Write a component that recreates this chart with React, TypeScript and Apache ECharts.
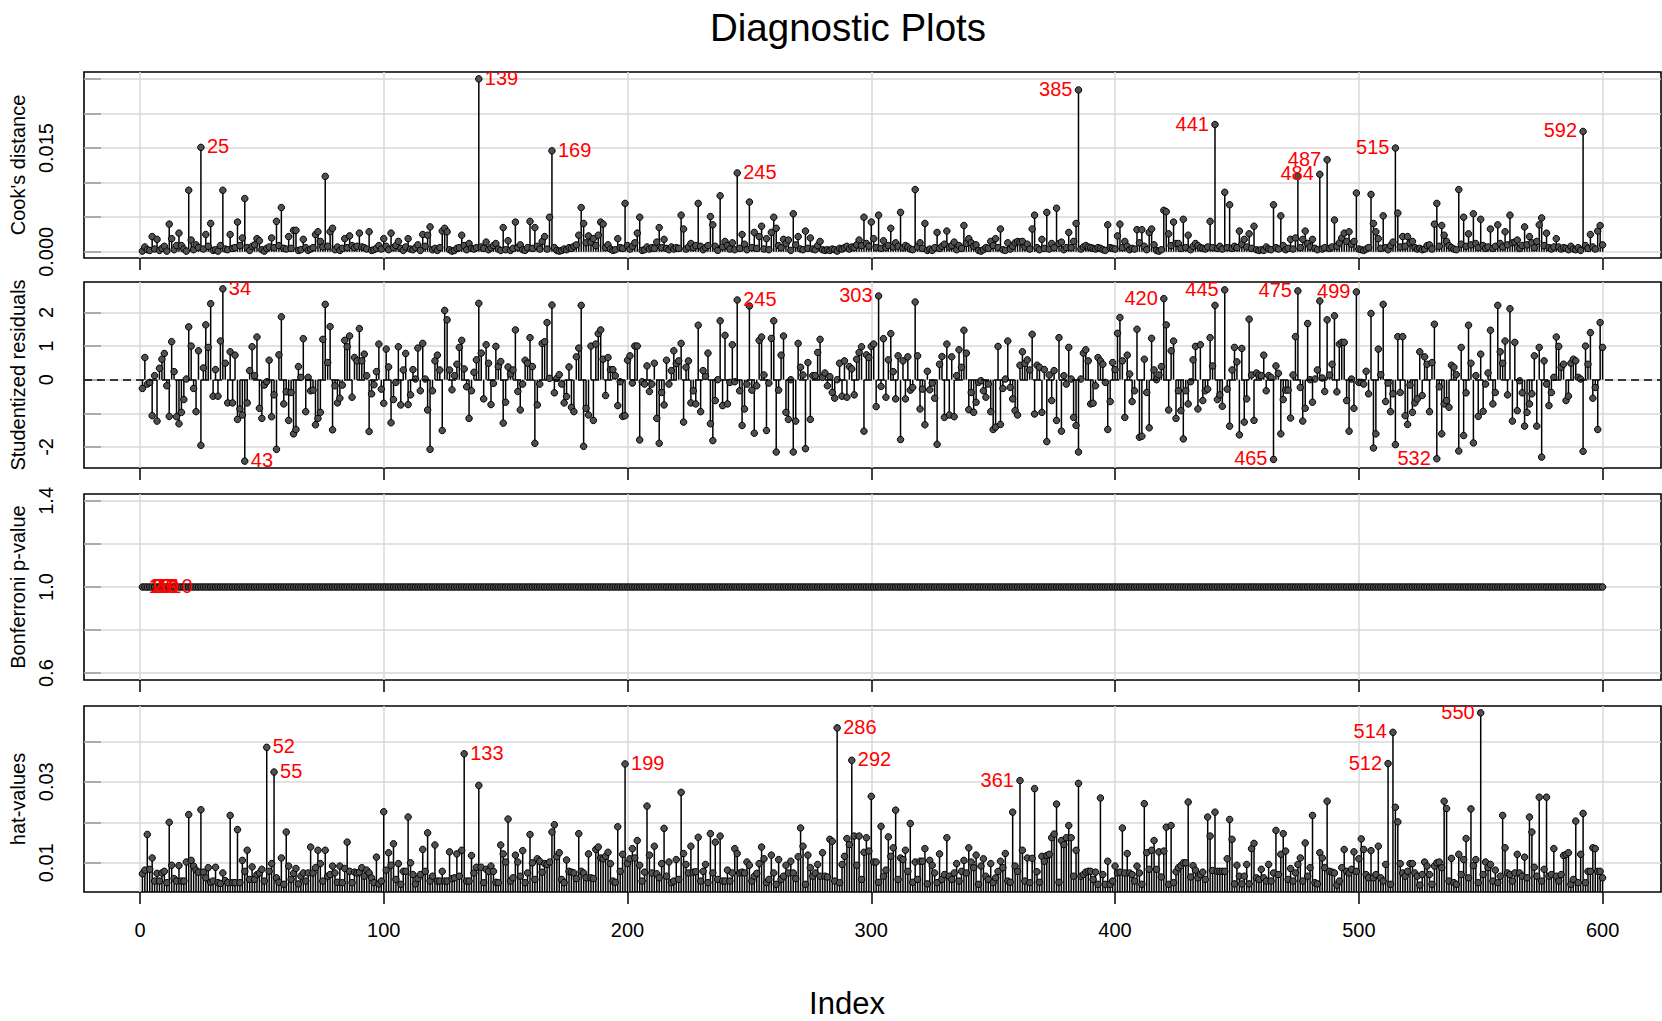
import React, { useEffect, useRef } from "react";
import * as echarts from "echarts";

// ---------- data ----------
const N = 600;
const indexValues: number[] = Array.from({ length: N }, (_, i) => i + 1);

// Cook's distance, in units of 0.001
const cookDistance: number[] = [
  0.1,0.7,0.3,0.2,2.2,0.4,1.8,0.2,0.5,0.8,0.1,4.0,1.9,0.3,0.9,2.7,0.9,0.4,0.1,8.9,
  1.7,0.3,1.0,0.6,15.1,0.4,2.5,0.8,4.1,0.2,0.3,0.1,0.9,8.9,0.4,0.3,2.5,0.5,0.6,4.3,
  0.9,2.0,7.7,0.6,0.2,0.8,1.0,1.9,1.6,0.3,0.1,0.5,0.7,2.0,0.6,4.4,0.9,6.4,0.5,0.4,
  2.2,0.5,3.1,3.1,0.2,0.3,1.8,0.6,0.2,0.4,0.6,2.5,2.9,1.5,0.7,10.9,0.8,2.9,3.4,0.3,
  0.7,0.2,0.5,1.9,0.6,2.3,0.9,0.6,0.8,2.7,0.7,0.6,0.4,2.9,0.2,0.3,0.5,0.9,0.4,1.9,
  0.8,0.3,2.7,0.6,0.9,1.5,0.5,0.2,0.7,1.9,0.4,0.3,0.6,1.0,0.2,2.5,0.8,2.4,3.6,0.3,
  0.5,0.2,0.6,3.0,3.4,2.9,0.3,0.1,0.2,0.5,0.6,2.4,0.9,0.3,1.2,0.5,0.4,0.6,25.0,0.7,
  0.5,1.4,0.3,0.6,0.9,1.2,0.4,0.2,3.5,0.3,1.6,0.2,0.5,4.3,0.6,1.0,0.3,0.2,0.6,4.4,
  0.5,3.5,0.8,0.4,1.5,2.2,0.4,5.0,14.6,0.6,0.2,0.1,0.2,0.4,0.3,0.6,0.5,0.8,1.0,2.4,
  6.4,4.1,1.3,2.3,1.4,1.9,0.9,2.4,4.3,4.0,0.6,1.0,0.4,0.2,0.3,1.9,0.6,0.5,7.0,0.9,
  0.4,0.8,1.3,2.7,5.0,0.2,0.3,0.7,0.4,0.6,0.5,1.4,3.5,0.6,1.8,0.5,0.3,0.7,0.4,0.6,
  0.5,5.3,3.3,0.4,0.7,1.2,0.6,0.9,7.0,0.8,0.3,0.6,0.9,5.1,3.9,0.8,0.2,8.1,0.7,1.5,
  0.9,0.4,1.3,0.3,11.4,0.5,2.5,1.1,0.3,7.2,0.6,2.8,0.5,2.2,3.7,0.4,1.9,0.3,2.8,5.0,
  3.4,0.9,0.6,1.8,1.2,1.7,0.2,5.5,1.0,2.2,0.4,0.3,3.0,0.5,2.0,0.4,0.3,0.9,1.5,0.3,
  0.2,0.3,0.2,0.4,0.3,0.1,0.5,0.4,0.6,0.8,0.4,0.7,0.6,1.0,1.7,0.9,5.0,1.2,0.8,4.3,
  1.9,0.6,5.3,0.5,1.6,0.6,0.9,3.4,0.7,1.3,0.8,5.7,0.6,0.9,0.7,0.4,0.3,9.0,0.7,1.3,
  0.5,4.1,0.2,0.4,0.2,0.6,2.8,0.5,0.8,1.1,3.0,0.7,0.9,1.4,0.3,0.9,0.5,3.8,1.2,1.9,
  1.3,0.8,1.0,0.2,0.1,0.3,0.6,0.5,1.5,0.9,1.9,0.6,3.3,0.3,0.2,1.3,0.4,0.8,1.3,1.5,
  1.4,1.5,0.7,1.1,0.4,3.3,5.3,0.6,0.3,1.8,0.5,5.7,0.4,1.2,0.6,6.3,1.2,1.4,0.3,0.6,
  2.8,0.6,1.5,4.1,23.4,0.4,0.7,0.9,0.7,0.6,0.5,0.4,0.6,0.5,0.3,0.2,3.9,0.6,0.5,0.4,
  2.3,4.0,0.6,1.5,0.8,0.3,0.5,0.4,3.2,1.3,3.2,0.8,0.3,2.8,3.3,1.0,0.2,0.1,0.3,6.0,
  5.8,2.6,0.9,4.3,1.2,1.2,0.5,4.7,0.6,2.4,0.3,0.8,1.2,0.9,0.6,0.5,0.4,0.7,4.4,0.6,
  18.4,0.5,0.8,0.4,8.6,0.6,6.8,0.5,0.8,0.6,3.0,1.1,1.8,0.7,2.6,0.5,3.7,0.3,0.2,0.3,
  0.2,0.7,0.4,0.3,6.8,0.6,0.4,5.2,0.9,0.3,0.5,1.8,0.4,2.0,10.9,0.6,1.8,3.0,1.2,0.7,
  1.8,0.5,0.3,11.2,0.4,0.6,13.3,0.5,0.7,4.6,0.8,1.3,2.0,2.7,1.5,2.9,1.1,1.5,8.5,0.4,
  0.3,0.2,0.4,0.6,8.3,4.1,2.9,1.9,0.5,5.2,0.6,0.3,0.9,1.4,15.0,5.6,0.7,2.2,0.8,2.2,
  1.3,1.5,0.6,0.4,0.5,0.3,0.4,0.9,1.0,0.4,4.0,7.0,0.8,3.8,2.4,1.5,0.9,0.6,0.4,0.3,
  9.0,1.1,5.0,0.8,2.6,1.0,5.5,1.2,0.6,4.7,0.9,0.5,0.7,3.3,0.5,0.8,3.9,1.2,0.7,2.9,
  1.0,5.3,1.3,1.4,1.7,0.5,0.9,3.6,1.0,2.2,1.3,0.6,1.5,3.9,4.9,0.9,2.7,0.6,0.4,0.7,
  1.9,0.7,0.4,0.6,0.5,0.3,0.8,0.4,0.3,0.6,0.2,17.4,0.9,0.5,2.5,0.7,0.4,3.0,3.8,1.0,
];

const studentizedResiduals: number[] = [
  -0.26,0.66,-0.13,-0.08,-1.07,0.12,-1.23,0.34,0.61,0.78,-0.18,-1.09,1.13,0.24,-1.1,-1.31,-0.97,-0.59,0.02,1.57,
  1.0,-0.26,-0.95,0.86,-1.95,0.35,1.63,0.96,2.26,-0.49,0.3,-0.49,1.15,2.7,0.49,-0.69,0.83,-0.69,0.73,-1.18,
  -0.87,-1.05,-2.42,-0.69,0.27,0.98,0.12,1.27,-0.85,-1.15,-0.16,-0.06,0.58,-1.1,-0.45,-2.07,0.74,1.87,-0.72,-0.36,
  -1.21,-0.38,-1.61,-1.48,0.39,0.07,1.22,-0.95,0.07,-0.33,-0.31,-1.34,-1.15,-0.97,1.2,2.24,0.51,1.58,-1.49,-0.18,
  -0.69,-0.55,-0.16,1.17,0.98,1.3,-0.52,0.66,0.56,1.52,0.56,0.76,0.12,-1.54,-0.42,-0.15,0.24,1.06,-0.28,-0.7,
  0.91,0.38,-1.28,-0.59,-0.08,0.98,-0.75,0.29,0.78,-0.74,-0.45,0.3,0.02,0.94,-0.33,1.08,0.02,-0.9,-2.07,-0.33,
  0.56,0.73,0.29,-1.51,2.06,1.78,0.29,-0.3,0.12,0.46,0.96,1.17,0.32,-0.21,-1.15,-0.33,0.22,0.59,2.27,0.79,
  -0.57,1.04,0.49,-0.74,-0.11,0.99,0.39,0.54,-1.29,-0.67,0.38,0.17,0.29,1.48,-0.35,-0.9,-0.13,0.58,0.49,1.25,
  0.39,-1.89,-0.75,-0.13,1.08,1.13,1.7,0.04,2.22,-0.39,0.04,0.15,-0.13,-0.69,-0.5,0.38,-0.82,-0.95,0.68,0.94,
  2.21,-1.98,-0.85,-1.05,1.0,-1.21,1.06,1.37,1.48,0.61,-0.47,0.66,0.3,0.3,0.12,-0.77,-0.06,-1.09,-1.07,0.58,
  0.71,-0.1,1.0,1.0,-1.79,-0.06,-0.13,0.41,-0.35,-0.13,0.49,-1.15,-1.89,-0.38,-0.75,0.58,-0.13,0.27,0.86,0.48,
  0.56,1.08,-1.26,0.37,0.56,-0.69,-0.33,-0.72,1.62,-0.95,0.27,0.1,0.79,-1.31,-1.81,-0.62,0.0,1.75,-0.77,1.32,
  -0.72,-0.08,1.04,-0.06,2.37,-0.33,-1.36,-0.87,-0.13,2.19,-0.31,-1.59,-0.18,1.17,1.27,0.14,-1.51,-0.1,1.23,1.75,
  -2.15,-0.31,0.73,1.3,-0.97,-1.18,0.0,-2.15,-1.23,1.08,0.37,0.14,-2.05,0.51,-1.18,0.12,0.12,0.81,1.2,0.07,
  0.2,-0.18,0.09,-0.38,-0.55,0.0,0.49,-0.49,0.56,-0.52,0.39,0.32,-0.45,0.61,0.81,0.98,-1.53,0.74,0.66,0.99,
  1.06,-0.8,2.49,-0.2,1.22,-0.52,0.59,1.37,0.24,-0.57,0.71,-1.78,0.56,-0.57,0.68,-0.31,-0.23,2.31,0.71,-0.87,
  -0.28,-1.34,0.25,-0.3,-0.1,-0.55,-1.92,0.46,0.69,-1.12,1.06,-1.05,0.68,-1.1,0.12,0.89,0.37,1.47,0.79,-0.89,
  -0.38,-0.97,-0.67,-0.08,-0.03,-0.33,-0.52,-0.13,-0.95,-1.48,-1.41,0.99,-1.33,-0.26,0.02,1.15,-0.23,-0.57,-0.92,-1.05,
  0.43,0.83,0.48,0.59,0.29,1.35,-1.02,0.43,0.37,-0.97,0.3,-1.84,0.14,-0.62,0.27,-1.21,1.25,-1.53,0.12,-0.13,
  0.96,0.02,-1.12,-1.36,-2.15,0.02,0.79,0.89,0.56,-0.72,-0.7,-0.18,0.66,0.56,0.46,-0.08,-1.48,-0.65,0.51,0.3,
  1.38,1.85,0.56,-1.12,0.73,0.17,-0.65,-0.33,1.5,-1.71,-1.68,0.61,-0.38,-1.43,1.23,0.29,0.0,0.14,0.39,2.41,
  1.63,-0.9,0.86,1.15,-1.15,-0.33,-0.92,-1.76,-0.33,-0.72,-0.06,0.59,0.99,-0.87,1.04,-0.62,-0.33,-0.28,1.25,0.41,
  2.21,-0.59,-0.45,-0.79,2.67,-0.28,-1.38,0.29,0.96,0.53,-1.64,0.93,-1.26,-0.57,1.8,0.14,-1.21,0.2,0.14,0.12,
  0.73,-0.33,0.12,0.07,-2.37,0.41,0.19,-1.61,-0.59,-0.31,-0.31,-1.14,0.14,1.28,2.64,-0.23,-1.23,-0.85,1.67,0.0,
  -0.67,0.02,0.29,2.34,0.05,-0.35,1.78,0.14,0.46,1.9,-0.36,1.06,1.11,1.11,-0.62,-1.53,0.02,-0.85,2.61,-0.08,
  -0.08,-0.13,0.25,-0.42,1.97,-2.03,-1.61,0.91,0.15,2.24,-0.65,-0.1,-0.95,-0.42,-1.93,1.28,-0.38,1.28,-1.07,-1.33,
  -0.16,-0.97,-0.69,-0.57,0.83,-0.47,0.68,0.46,-0.95,0.51,1.65,-2.35,-0.21,-1.61,-0.72,-0.62,-0.82,0.43,0.37,0.15,
  -2.12,0.96,-1.66,-0.39,1.62,0.49,-1.88,0.12,-1.09,0.76,-0.94,-0.13,0.2,1.47,-0.72,-0.38,2.21,0.83,0.49,1.15,
  -0.45,2.11,-1.23,1.11,-0.92,-0.03,-0.39,-1.38,-0.97,-0.72,-0.42,0.71,-1.38,0.96,-2.3,0.56,-0.13,-0.77,-0.38,0.07,
  1.27,0.99,0.37,0.46,-0.62,-0.49,0.49,0.61,0.56,0.07,0.02,-2.13,1.0,0.46,1.4,-0.55,-0.23,-1.48,1.7,0.96,
];

// Bonferroni p-values: every observation reads 1.0
const bonferroniValue = 1.0;

// hat-values, in units of 0.001
const hatValues: number[] = [
  7.3,8.2,17.0,8.4,11.2,5.5,7.4,5.5,7.5,7.9,5.1,20.0,9.4,6.1,5.5,9.3,5.5,5.5,10.2,21.9,
  10.6,9.2,8.2,7.7,23.1,7.7,6.3,8.8,5.2,5.5,8.9,5.1,4.9,7.5,5.6,5.1,21.7,5.1,5.1,18.2,
  5.1,10.6,7.9,13.1,5.9,9.0,5.9,7.1,7.5,8.4,5.5,38.5,7.9,9.8,32.4,6.3,5.2,11.2,4.7,17.6,
  9.2,5.9,7.4,8.6,4.8,6.7,7.5,5.5,7.5,13.9,7.5,8.8,13.1,9.8,5.5,13.1,6.7,7.1,9.2,7.5,
  5.2,9.2,5.1,8.6,15.1,7.9,5.1,7.7,7.5,7.7,8.8,6.7,8.2,7.5,6.3,5.1,11.4,4.8,5.5,22.6,
  8.2,12.5,9.4,14.7,5.9,9.8,4.7,7.9,7.9,21.3,10.0,7.1,4.8,6.1,7.1,13.3,7.9,17.4,5.5,6.7,
  14.4,5.5,5.5,7.9,5.5,5.5,12.7,6.1,6.3,12.2,6.7,13.1,36.9,5.5,5.5,11.8,7.5,8.9,29.1,8.9,
  5.1,8.4,7.9,9.2,7.9,5.2,5.1,14.4,12.2,10.2,20.8,5.5,6.3,11.9,10.2,6.7,13.0,5.1,7.5,17.0,
  10.0,5.9,11.0,10.4,7.7,9.8,9.6,10.2,17.6,19.4,11.5,12.5,5.9,5.1,10.7,7.9,7.7,7.5,6.1,17.2,
  7.9,7.5,6.3,12.2,6.3,6.1,13.3,13.9,11.2,11.0,11.6,12.6,9.8,5.5,5.2,18.9,7.9,12.1,34.4,9.8,
  11.0,13.5,11.2,15.5,9.4,5.5,7.7,24.0,11.9,7.5,14.1,7.3,6.3,9.8,18.5,6.7,10.2,5.1,5.5,10.8,
  5.9,27.4,12.3,9.6,7.5,14.1,7.7,7.8,16.3,5.5,7.9,9.6,5.1,17.2,7.5,15.1,5.9,16.6,5.5,5.5,
  8.2,5.5,7.5,13.5,12.3,7.5,7.7,7.5,10.2,9.4,5.5,6.7,7.4,9.8,13.9,11.0,5.1,5.9,11.9,7.5,
  4.7,10.8,5.9,6.7,9.4,7.5,10.4,7.5,6.1,11.5,18.6,14.1,4.7,11.9,8.8,6.7,7.5,9.6,6.7,12.5,
  6.7,6.5,15.8,15.3,5.5,43.3,5.1,9.6,11.6,16.0,14.5,35.3,16.6,9.4,16.6,5.9,12.6,16.2,12.9,26.4,
  10.2,10.2,5.2,19.0,6.7,8.2,16.4,11.6,13.7,23.0,5.9,11.2,10.8,13.1,7.9,19.7,5.2,10.2,5.9,10.4,
  10.4,13.5,4.8,10.6,9.4,7.5,5.1,12.2,5.9,7.1,16.2,6.7,5.9,7.5,9.8,5.5,7.9,10.6,7.5,13.7,
  10.2,8.8,11.9,4.7,9.2,11.0,6.7,5.9,9.8,5.1,6.3,7.9,10.4,8.8,12.3,5.5,5.2,22.5,9.2,7.9,
  30.3,13.1,5.5,11.2,5.1,11.1,28.3,7.8,5.2,11.6,10.4,11.8,12.1,16.2,17.1,24.5,5.2,15.5,14.5,16.2,
  19.2,16.2,6.7,13.1,29.6,6.7,7.1,7.7,7.9,7.9,5.9,7.7,4.7,26.0,7.1,4.7,10.4,4.7,5.5,9.2,
  7.5,7.7,18.6,7.5,12.3,7.5,7.1,5.5,9.2,7.5,4.7,24.6,12.5,8.4,13.1,15.5,8.4,12.7,6.5,12.9,
  18.8,4.7,19.2,5.1,7.8,8.8,9.3,10.0,10.0,25.0,6.5,9.3,8.2,6.3,7.1,7.7,5.9,21.3,16.6,8.1,
  22.5,7.9,7.9,7.9,7.9,11.0,20.7,15.8,4.8,9.4,6.7,4.8,6.7,9.6,4.8,13.5,14.8,6.3,5.9,8.4,
  6.3,5.5,9.6,5.5,7.5,18.0,7.1,12.1,17.2,12.9,5.9,8.6,5.5,7.5,9.6,11.2,5.5,14.9,6.7,8.8,
  21.7,5.1,4.8,12.5,11.2,8.8,25.2,7.9,7.7,7.5,4.5,5.5,8.8,13.3,7.9,7.5,8.4,12.7,7.9,11.0,
  15.9,13.3,7.1,6.3,13.0,6.3,7.1,14.1,6.3,5.5,9.6,34.5,4.7,42.2,23.7,20.1,9.8,7.5,6.7,7.9,
  9.8,9.8,7.5,6.7,4.5,7.1,10.2,9.2,7.1,4.7,9.2,10.0,10.2,8.8,25.2,23.4,5.5,11.1,5.1,4.7,
  12.1,7.1,10.8,16.0,6.3,23.3,9.3,10.8,5.1,47.0,7.1,10.2,8.8,9.6,5.5,8.2,5.1,6.7,21.7,13.7,
  7.5,7.1,5.5,7.5,12.1,7.5,6.7,11.4,6.3,21.3,17.6,8.9,6.7,26.2,5.5,8.4,26.2,6.7,7.1,13.5,
  6.7,5.5,7.1,11.8,12.1,12.5,4.7,5.9,20.3,5.1,12.1,22.2,5.1,7.9,7.9,13.7,13.5,7.9,7.9,6.3,
];

// labelled observations
const cookLabels = [139, 385, 441, 592, 25, 515, 169, 487, 245, 484];
const residualLabels = [34, 445, 475, 499, 303, 43, 420, 245, 465, 532];
const bonferroniLabels = [1, 2, 3, 4, 5, 6, 7, 8, 9, 10];
const hatLabels = [550, 286, 514, 52, 133, 292, 512, 199, 55, 361];

// tick positions / labels
const xTicks = [0, 100, 200, 300, 400, 500, 600];
const cookTicks = [0, 5, 10, 15, 20, 25];
const cookTickLabels = [0, 15];
const residualTicks = [-2, -1, 0, 1, 2];
const residualTickLabels = [-2, 0, 1, 2];
const bonfTicks = [0.6, 0.8, 1.0, 1.2, 1.4];
const bonfTickLabels = [0.6, 1.0, 1.4];
const hatTicks = [10, 20, 30, 40];
const hatTickLabels = [10, 30];

const FONT = "'Liberation Sans', Arial, Helvetica, sans-serif";

function padRange(vals: number[]): [number, number] {
  let mn = Infinity, mx = -Infinity;
  vals.forEach((v) => { if (v < mn) mn = v; if (v > mx) mx = v; });
  const p = (mx - mn) * 0.04;
  return [mn - p, mx + p];
}

export default function App() {
  const ref = useRef<HTMLDivElement>(null);

  useEffect(() => {
    if (!ref.current) return;
    const chart = echarts.init(ref.current, undefined, { renderer: "svg" });

    const bonfValues = indexValues.map(() => bonferroniValue);
    const xRange = padRange(indexValues);

    const panels = [
      { name: "Cook's distance", values: cookDistance, range: padRange(cookDistance), ticks: cookTicks, tickLabels: cookTickLabels,
        fmt: (v: number) => (v / 1000).toFixed(3), stems: true, ids: cookLabels, zero: false },
      { name: "Studentized residuals", values: studentizedResiduals, range: padRange(studentizedResiduals), ticks: residualTicks, tickLabels: residualTickLabels,
        fmt: (v: number) => String(v), stems: true, ids: residualLabels, zero: true },
      { name: "Bonferroni p-value", values: bonfValues, range: [0.568, 1.432] as [number, number], ticks: bonfTicks, tickLabels: bonfTickLabels,
        fmt: (v: number) => v.toFixed(1), stems: false, ids: bonferroniLabels, zero: false },
      { name: "hat-values", values: hatValues, range: padRange(hatValues), ticks: hatTicks, tickLabels: hatTickLabels,
        fmt: (v: number) => (v / 1000).toFixed(2), stems: true, ids: hatLabels, zero: false },
    ];

    const tops = [72, 282, 494, 706];
    const gridH = 186;
    const grid = panels.map((_, i) => ({
      left: 84, width: 1577, top: tops[i], height: gridH,
      show: true, borderColor: "#000", borderWidth: 1.6, backgroundColor: "transparent",
    }));

    const gridLine = { show: true, lineStyle: { color: "#d9d9d9", width: 1.5 } };

    const xAxis = panels.map((_, i) => ({
      type: "value", gridIndex: i, min: xRange[0], max: xRange[1],
      axisLine: { show: false, onZero: false },
      axisTick: { show: true, inside: false, length: 12, customValues: xTicks, lineStyle: { color: "#000", width: 1.5 } },
      axisLabel: { show: i === 3, customValues: xTicks, margin: 28, fontSize: 20, color: "#000", fontFamily: FONT },
      splitLine: gridLine,
    }));

    const yAxis = panels.map((p, i) => ({
      type: "value", gridIndex: i, min: p.range[0], max: p.range[1],
      axisLine: { show: false, onZero: false },
      axisTick: { show: true, inside: true, length: 17, customValues: p.ticks, lineStyle: { color: "#9a9a9a", width: 1.5 } },
      axisLabel: { customValues: p.tickLabels, formatter: (v: number) => p.fmt(v), rotate: 90, margin: 28,
        fontSize: 20, color: "#000", fontFamily: FONT },
      splitLine: gridLine,
      name: p.name, nameLocation: "middle", nameGap: 52,
      nameTextStyle: { fontSize: 20, color: "#000", fontFamily: FONT },
    }));

    const series: any[] = [];
    panels.forEach((p, i) => {
      const pts = indexValues.map((x, k) => [x, p.values[k]]);
      if (p.stems) {
        series.push({
          type: "bar", xAxisIndex: i, yAxisIndex: i, data: pts, barWidth: 1.5,
          itemStyle: { color: "#000" }, silent: true, z: 2, clip: true,
        });
      }
      series.push({
        type: "scatter", xAxisIndex: i, yAxisIndex: i, data: pts, symbol: "circle", symbolSize: 6.5,
        itemStyle: { color: "#505050", borderColor: "#000", borderWidth: 1, opacity: 1 }, silent: true, z: 3, clip: true,
        markLine: p.zero ? {
          silent: true, symbol: ["none", "none"], label: { show: false },
          lineStyle: { type: [8, 5], color: "#000", width: 1.5 },
          data: [{ yAxis: 0 }],
        } : undefined,
      });
      series.push({
        type: "custom", xAxisIndex: i, yAxisIndex: i, silent: true, z: 4, clip: true,
        data: p.ids.map((id) => [id, p.values[id - 1]]),
        renderItem: (params: any, api: any) => {
          const x = api.value(0);
          const y = api.value(1);
          const pt = api.coord([x, y]);
          const right = x < (xRange[0] + xRange[1]) / 2;
          return {
            type: "text",
            x: pt[0] + (right ? 6 : -6),
            y: pt[1] - 1,
            style: {
              text: String(x), fill: "#ff0000", fontSize: 20, fontFamily: FONT,
              align: right ? "left" : "right", verticalAlign: "middle",
            },
          };
        },
      });
    });

    chart.setOption({
      animation: false,
      backgroundColor: "#fff",
      grid, xAxis, yAxis, series,
      graphic: [
        { type: "text", x: 848, y: 27, style: { text: "Diagnostic Plots", fontSize: 38.5, fontFamily: FONT, fill: "#000", align: "center", verticalAlign: "middle" } },
        { type: "text", x: 847, y: 1003, style: { text: "Index", fontSize: 31, fontFamily: FONT, fill: "#000", align: "center", verticalAlign: "middle" } },
      ],
    });

    return () => chart.dispose();
  }, []);

  return (
    <div
      ref={ref}
      style={{ position: "fixed", left: 0, top: 0, width: 1662, height: 1021, background: "#fff" }}
    />
  );
}
